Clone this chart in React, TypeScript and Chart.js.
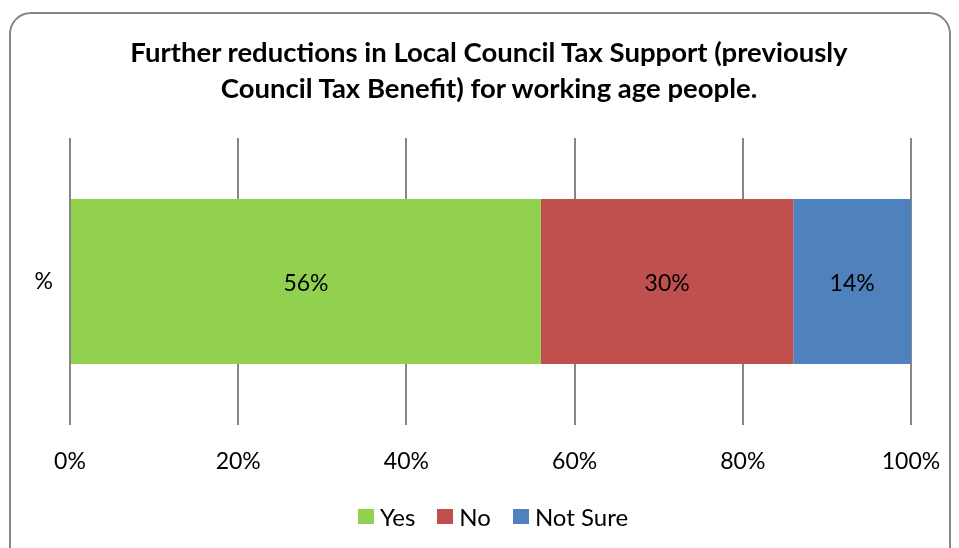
import React, { useEffect, useRef } from "react";
import { Chart, registerables } from "chart.js";

Chart.register(...registerables);

const categories = ["%"];
const seriesNames = ["Yes", "No", "Not Sure"];
const yesValues = [56];
const noValues = [30];
const notSureValues = [14];
const seriesColors = ["#92D050", "#C0504D", "#4F81BD"];
const titleLines = [
  "Further reductions in Local Council Tax Support (previously",
  "Council Tax Benefit) for working age people.",
];

const FONT = "Lato, 'Open Sans', sans-serif";

const valueLabels = {
  id: "valueLabels",
  afterDatasetsDraw(chart: any) {
    const ctx = chart.ctx;
    ctx.save();
    ctx.font = `23px ${FONT}`;
    ctx.fillStyle = "#000";
    ctx.textAlign = "center";
    ctx.textBaseline = "middle";
    chart.data.datasets.forEach((ds: any, i: number) => {
      const meta = chart.getDatasetMeta(i);
      meta.data.forEach((bar: any, j: number) => {
        const p = bar.getProps(["x", "y", "base"], true);
        const cx = (p.x + p.base) / 2;
        ctx.fillText(`${ds.data[j]}%`, cx, p.y + 2);
      });
    });
    ctx.restore();
  },
};

export default function App() {
  const ref = useRef<HTMLCanvasElement>(null);
  useEffect(() => {
    const chart = new Chart(ref.current!, {
      type: "bar",
      data: {
        labels: categories,
        datasets: [yesValues, noValues, notSureValues].map((d, i) => ({
          label: seriesNames[i],
          data: d,
          backgroundColor: seriesColors[i],
          borderWidth: 0,
          barPercentage: 1,
          categoryPercentage: 0.575,
        })),
      },
      options: {
        indexAxis: "y",
        animation: false,
        responsive: false,
        maintainAspectRatio: false,
        layout: { padding: { left: 0, right: 48, top: 138, bottom: 75 } },
        plugins: {
          title: { display: false },
          legend: { display: false },
          tooltip: { enabled: false },
        },
        scales: {
          x: {
            stacked: true,
            min: 0,
            max: 100,
            ticks: {
              stepSize: 20,
              callback: (v: any) => `${v}%`,
              color: "#000",
              font: { family: FONT, size: 23 },
              padding: 23,
              maxRotation: 0,
            },
            grid: { display: true, color: "#868686", lineWidth: 2, drawTicks: false },
            border: { display: false },
            afterFit: (scale: any) => {
              scale.height = 48;
              scale.paddingLeft = 0;
              scale.paddingRight = 0;
            },
          },
          y: {
            stacked: true,
            ticks: {
              color: "#000",
              font: { family: FONT, size: 23 },
              crossAlign: "center",
              padding: 9,
            },
            grid: { display: false },
            border: { display: false },
            afterFit: (scale: any) => {
              scale.width = 70;
              scale.paddingTop = 0;
              scale.paddingBottom = 0;
            },
          },
        },
      },
      plugins: [valueLabels],
    });
    return () => chart.destroy();
  }, []);
  return (
    <div style={{ position: "fixed", left: 0, top: 0, width: 959, height: 548, overflow: "hidden", background: "#fff" }}>
      <canvas ref={ref} width={959} height={548} style={{ position: "absolute", left: 0, top: 0 }} />
      <div
        style={{
          position: "absolute",
          left: 19,
          top: 34,
          width: 940,
          textAlign: "center",
          fontFamily: FONT,
          fontWeight: "bold",
          fontSize: 27.5,
          lineHeight: "36px",
          color: "#000",
        }}
      >
        {titleLines.map((t, i) => (
          <div key={i}>{t}</div>
        ))}
      </div>
      <div
        style={{
          position: "absolute",
          left: 27,
          top: 500,
          width: 932,
          height: 32,
          display: "flex",
          justifyContent: "center",
          alignItems: "center",
          gap: 22,
          fontFamily: FONT,
          fontSize: 24,
          color: "#000",
        }}
      >
        {seriesNames.map((n, i) => (
          <div key={n} style={{ display: "flex", alignItems: "center", gap: 6 }}>
            <span style={{ display: "inline-block", width: 16, height: 15, background: seriesColors[i] }} />
            <span>{n}</span>
          </div>
        ))}
      </div>
      <div
        style={{
          position: "absolute",
          left: 9,
          top: 12,
          width: 938,
          height: 600,
          border: "2px solid #868686",
          borderRadius: 22,
          pointerEvents: "none",
        }}
      />
    </div>
  );
}
